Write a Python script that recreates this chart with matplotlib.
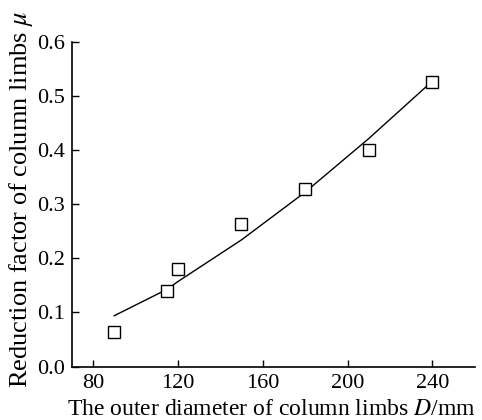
import matplotlib
matplotlib.use("Agg")
import matplotlib.pyplot as plt

# data
D_points = [90, 115, 120, 150, 180, 210, 240]
mu_points = [0.064, 0.140, 0.181, 0.264, 0.328, 0.400, 0.526]
D_fit = [90, 115, 120, 150, 180, 210, 240]
mu_fit = [0.094, 0.143, 0.157, 0.234, 0.322, 0.421, 0.527]
xticks = [80, 120, 160, 200, 240]
yticks = [0.0, 0.1, 0.2, 0.3, 0.4, 0.5, 0.6]

plt.rcParams['font.family'] = ['Liberation Serif', 'DejaVu Serif']
plt.rcParams['mathtext.fontset'] = 'stix'

fig = plt.figure(figsize=(4.82, 4.2), dpi=100)
ax = fig.add_axes([0.149, 0.127, 0.836, 0.774])
ax.plot(D_fit, mu_fit, color='black', lw=1.0)
ax.plot(D_points, mu_points, linestyle='none', marker='s', ms=8,
        mfc='white', mec='black', mew=1.0)
ax.set_xlim(70, 260)
ax.set_ylim(0, 0.6)
ax.set_xticks(xticks)
ax.set_yticks(yticks)
ax.set_yticklabels([f"{v:.1f}" for v in yticks])
ax.tick_params(direction='in', length=5, width=1, labelsize=16, colors='black')
ax.tick_params(axis='x', pad=5)
ax.tick_params(axis='y', pad=5)
for s in ['top', 'right']:
    ax.spines[s].set_visible(False)
for s in ['left', 'bottom']:
    ax.spines[s].set_linewidth(1.2)
ax.set_xlabel(r"The outer diameter of column limbs $D$/mm", fontsize=17)
ax.set_ylabel(r"Reduction factor of column limbs $\mu$", fontsize=19)
ax.yaxis.set_label_coords(-0.091, 0.515)
ax.xaxis.set_label_coords(0.496, -0.098)
fig.savefig("out.png", dpi=100)
